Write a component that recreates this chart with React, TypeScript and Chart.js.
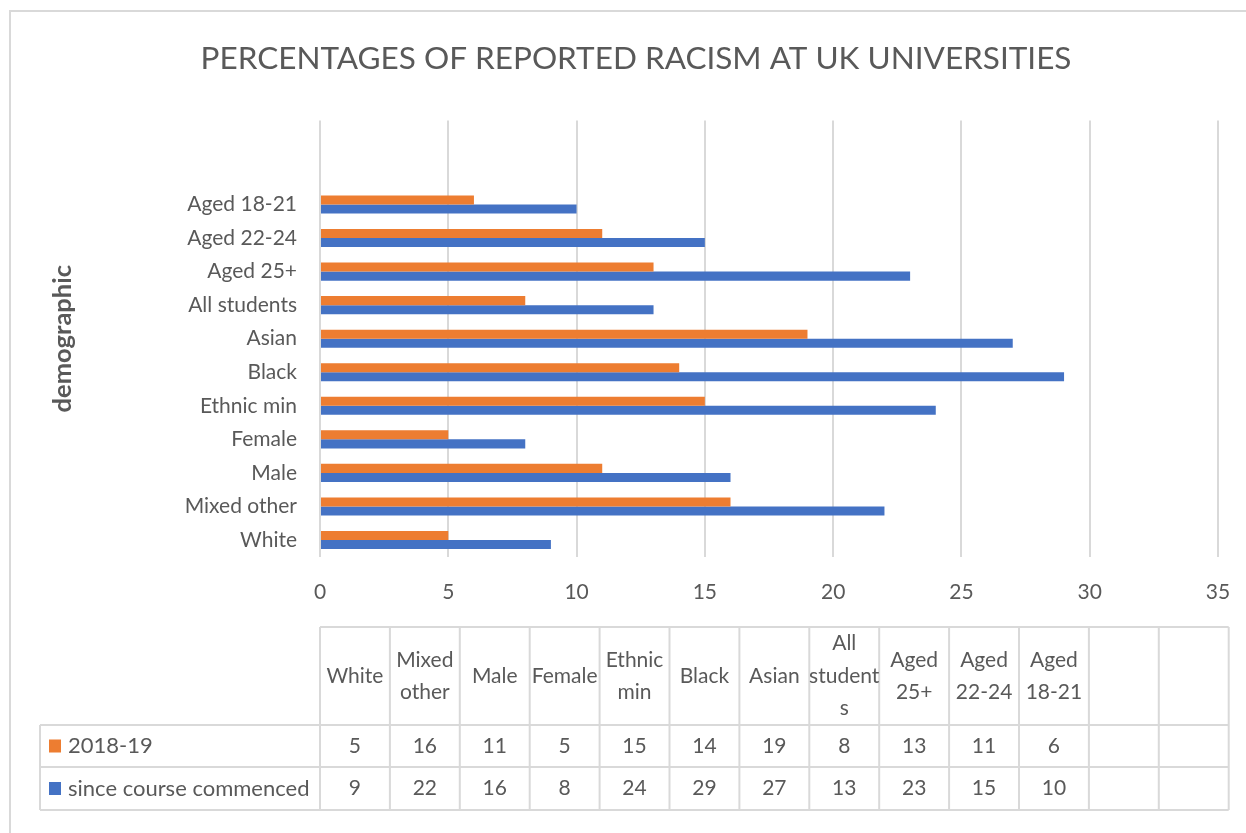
import React, { useEffect, useRef } from "react";
import { Chart, registerables } from "chart.js";

Chart.register(...registerables);

// ---- chart content ----
const chartTitle = "PERCENTAGES OF REPORTED RACISM AT UK UNIVERSITIES";
const axisTitle = "demographic";
const categories = [
  "White",
  "Mixed other",
  "Male",
  "Female",
  "Ethnic min",
  "Black",
  "Asian",
  "All students",
  "Aged 25+",
  "Aged 22-24",
  "Aged 18-21",
  "",
  "",
];
const seriesNames = ["2018-19", "since course commenced"];
const values201819 = [5, 16, 11, 5, 15, 14, 19, 8, 13, 11, 6, null, null];
const valuesSinceStart = [9, 22, 16, 8, 24, 29, 27, 13, 23, 15, 10, null, null];
const xMin = 0;
const xMax = 35;
const xStep = 5;

// ---- styling ----
const FONT = "Lato, 'Open Sans', sans-serif";
const TEXT = "#595959";
const LINE = "#d9d9d9";
const COLORS = ["#ED7D31", "#4472C4"];

// white page background plus the thin frame around the chart
const framePlugin = {
  id: "frame",
  beforeDraw(chart: any) {
    const { ctx, width, height } = chart;
    ctx.save();
    ctx.fillStyle = "#ffffff";
    ctx.fillRect(0, 0, width, height);
    ctx.strokeStyle = LINE;
    ctx.lineWidth = 2;
    ctx.beginPath();
    ctx.moveTo(width, 11);
    ctx.lineTo(10, 11);
    ctx.lineTo(10, height);
    ctx.stroke();
    ctx.restore();
  },
};

function wrapText(ctx: CanvasRenderingContext2D, text: string, maxW: number): string[] {
  const lines: string[] = [];
  let cur = "";
  for (const word of text.split(" ")) {
    const trial = cur ? cur + " " + word : word;
    if (ctx.measureText(trial).width <= maxW) {
      cur = trial;
      continue;
    }
    if (cur) lines.push(cur);
    cur = "";
    // break a single long word by characters
    let piece = "";
    for (const ch of word) {
      if (ctx.measureText(piece + ch).width > maxW && piece) {
        lines.push(piece);
        piece = ch;
      } else piece += ch;
    }
    cur = piece;
  }
  if (cur) lines.push(cur);
  return lines;
}

// data table under the plot, with the legend keys in its first column
const tablePlugin = {
  id: "dataTable",
  afterDraw(chart: any) {
    const ctx: CanvasRenderingContext2D = chart.ctx;
    const left = chart.chartArea.left;
    const colW = 69.9;
    const n = categories.length;
    const right = left + colW * n;
    const yHead = 627;
    const rows = [725, 767, 810];
    const legendLeft = 40;
    const series = [values201819, valuesSinceStart];

    ctx.save();
    ctx.strokeStyle = LINE;
    ctx.lineWidth = 2;
    ctx.beginPath();
    ctx.moveTo(left, yHead);
    ctx.lineTo(right, yHead);
    for (const y of rows) {
      ctx.moveTo(legendLeft, y);
      ctx.lineTo(right, y);
    }
    for (let i = 0; i <= n; i++) {
      const x = left + i * colW;
      ctx.moveTo(x, yHead);
      ctx.lineTo(x, rows[2]);
    }
    ctx.moveTo(legendLeft, rows[0]);
    ctx.lineTo(legendLeft, rows[2]);
    ctx.stroke();

    ctx.fillStyle = TEXT;
    ctx.font = `21px ${FONT}`;
    ctx.textAlign = "center";
    ctx.textBaseline = "middle";

    // header cells
    const headMid = (yHead + rows[0]) / 2;
    const lineGap = 32.5;
    categories.forEach((c, i) => {
      if (!c) return;
      const lines = wrapText(ctx, c, colW + 2);
      const cx = left + colW * (i + 0.5);
      const y0 = headMid - ((lines.length - 1) * lineGap) / 2;
      lines.forEach((ln, k) => ctx.fillText(ln, cx, y0 + k * lineGap));
    });

    // value rows with legend keys
    series.forEach((vals, r) => {
      const cy = (rows[r] + rows[r + 1]) / 2;
      ctx.fillStyle = COLORS[r];
      ctx.fillRect(49, cy - 6.5, 12, 13);
      ctx.fillStyle = TEXT;
      ctx.textAlign = "left";
      ctx.font = `22px ${FONT}`;
      ctx.fillText(seriesNames[r], 68, cy);
      ctx.font = `21px ${FONT}`;
      ctx.textAlign = "center";
      vals.forEach((v, i) => {
        if (v === null) return;
        ctx.fillText(String(v), left + colW * (i + 0.5), cy);
      });
    });
    ctx.restore();
  },
};

export default function App() {
  const ref = useRef<HTMLCanvasElement>(null);

  useEffect(() => {
    const canvas = ref.current!;
    const chart = new Chart(canvas, {
      type: "bar",
      data: {
        labels: categories,
        datasets: [
          { label: seriesNames[0], data: values201819, backgroundColor: COLORS[0], borderWidth: 0 },
          { label: seriesNames[1], data: valuesSinceStart, backgroundColor: COLORS[1], borderWidth: 0 },
        ],
      },
      options: {
        indexAxis: "y",
        responsive: false,
        animation: false,
        devicePixelRatio: 1,
        layout: { padding: { left: 54, right: 28, top: 0, bottom: 0 } },
        datasets: { bar: { categoryPercentage: 0.54, barPercentage: 1 } },
        plugins: {
          legend: { display: false },
          tooltip: { enabled: false },
          title: {
            display: true,
            text: chartTitle,
            color: TEXT,
            font: { family: FONT, size: 31.5, weight: "normal" },
            padding: { top: 39.5, bottom: 43.3 },
          },
        },
        scales: {
          x: {
            type: "linear",
            position: "bottom",
            min: xMin,
            max: xMax,
            ticks: { stepSize: xStep, color: TEXT, font: { family: FONT, size: 21 }, padding: 23 },
            grid: { color: LINE, lineWidth: 2, drawTicks: false },
            border: { display: false },
            afterFit: (s: any) => {
              s.height = 276.2;
              s.paddingLeft = 0;
              s.paddingRight = 0;
            },
          },
          y: {
            type: "category",
            reverse: true,
            offset: true,
            grid: { display: false, drawTicks: false },
            border: { display: false },
            ticks: { color: TEXT, font: { family: FONT, size: 21 }, padding: 23, autoSkip: false },
            title: {
              display: true,
              text: axisTitle,
              color: TEXT,
              font: { family: FONT, size: 25.5, weight: "bold" },
              padding: { top: -6.8, bottom: 0 },
            },
            afterFit: (s: any) => {
              s.width = 266;
              s.paddingTop = 0;
              s.paddingBottom = 0;
            },
          },
        },
      },
      plugins: [framePlugin, tablePlugin],
    } as any);
    return () => chart.destroy();
  }, []);

  return (
    <div style={{ position: "fixed", left: 0, top: 0, width: 1246, height: 833, background: "#fff" }}>
      <canvas ref={ref} width={1246} height={833} style={{ display: "block" }} />
    </div>
  );
}
